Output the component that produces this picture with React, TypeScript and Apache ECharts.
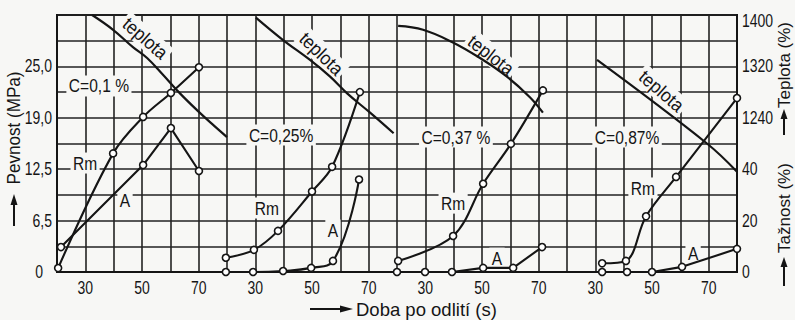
import React, { useEffect, useRef } from 'react';
import * as echarts from 'echarts';

const FONT = '"Liberation Sans", Arial, sans-serif';
const INK = '#151515';
const PAPER = '#f7f7f5';

// each panel spans 20..80 s after casting
const PANEL_START = 20;
const PANEL_SPAN = 60;
const PANEL_COUNT = 4;

// tick labels (rows 0..10 of the shared grid)
const leftTickLabels = ['0', '', '6,5', '', '12,5', '', '19,0', '', '25,0', '', ''];
const rightTickLabels = ['0', '', '20', '', '40', '', '1240', '', '1320', '', '1400'];
const timeTickLabels = ['30', '50', '70'];
const timeTickValues = [30, 50, 70];

// strength scale: MPa values printed at rows 0,2,4,6,8
const rmScaleValues = [0, 6.5, 12.5, 19.0, 25.0];
const rmScaleRows = [0, 2, 4, 6, 8];

const carbonLabels = ['C=0,1 %', 'C=0,25%', 'C=0,37 %', 'C=0,87%'];

// Panel 1, C = 0.1 %
const rmTime1 = [20.4, 39.8, 50.4, 60.2, 70.1];
const rmVal1 = [0.5, 14.5, 19.1, 21.9, 24.9];
const aTime1 = [21.4, 50.4, 60.2, 70.1];
const aVal1 = [9.7, 41.6, 56.0, 39.3];
const tTime1 = [32.4, 39.8, 46.8, 51.8, 57.4, 63.4, 69.4, 75.1, 80];
const tVal1 = [1400, 1377, 1350, 1333, 1307, 1278, 1252, 1229, 1210];

// Panel 2, C = 0.25 %
const rmTime2 = [19.6, 29.5, 38.0, 50.0, 57.1, 66.9];
const rmVal2 = [1.8, 2.8, 5.2, 9.9, 12.8, 22.0];
const aTime2 = [19.6, 29.2, 39.8, 49.7, 57.4, 66.6];
const aVal2 = [0, 0, 0.4, 1.6, 4.3, 36];
const tTime2 = [30.2, 39.8, 49.3, 56.4, 62.4, 70.5, 78.8];
const tVal2 = [1396, 1361, 1330, 1304, 1278, 1248, 1216];

// Panel 3, C = 0.37 %
const rmTime3 = [20.4, 39.8, 50.4, 60.2, 71.5];
const rmVal3 = [1.4, 4.55, 10.8, 15.7, 22.2];
const aTime3 = [20, 29.9, 39.4, 50.4, 61.0, 71.2];
const aVal3 = [0, 0, 0, 1.6, 1.6, 9.7];
const tTime3 = [20.4, 29.2, 39.4, 49.3, 58.8, 66.9, 71.5];
const tVal3 = [1383, 1377, 1358, 1333, 1304, 1272, 1248];

// Panel 4, C = 0.87 %
const rmTime4 = [32.4, 40.8, 47.9, 58.5, 80];
const rmVal4 = [1.1, 1.4, 7.0, 11.6, 21.3];
const aTime4 = [32.4, 41.2, 50.0, 60.6, 80];
const aVal4 = [0, 0, 0, 2.0, 9.0];
const tTime4 = [30.6, 69.4, 80];
const tVal4 = [1330, 1200, 1156];

const panels = [
  { rmT: rmTime1, rmV: rmVal1, aT: aTime1, aV: aVal1, tT: tTime1, tV: tVal1 },
  { rmT: rmTime2, rmV: rmVal2, aT: aTime2, aV: aVal2, tT: tTime2, tV: tVal2 },
  { rmT: rmTime3, rmV: rmVal3, aT: aTime3, aV: aVal3, tT: tTime3, tV: tVal3 },
  { rmT: rmTime4, rmV: rmVal4, aT: aTime4, aV: aVal4, tT: tTime4, tV: tVal4 },
];

const aSmooth = [false, 0.45, false, false];

// annotation anchors: panel, time (s), grid row
const annotations = [
  { p: 0, t: 34.8, row: 7.24, text: carbonLabels[0], rot: 0 },
  { p: 0, t: 29.9, row: 4.24, text: 'Rm', rot: 0 },
  { p: 0, t: 44.0, row: 2.8, text: 'A', rot: 0 },
  { p: 0, t: 51.2, row: 9.1, text: 'teplota', rot: -41 },
  { p: 1, t: 39.1, row: 5.33, text: carbonLabels[1], rot: 0 },
  { p: 1, t: 34.1, row: 2.49, text: 'Rm', rot: 0 },
  { p: 1, t: 57.4, row: 1.63, text: 'A', rot: 0 },
  { p: 1, t: 53.4, row: 8.5, text: 'teplota', rot: -44 },
  { p: 2, t: 40.8, row: 5.25, text: carbonLabels[2], rot: 0 },
  { p: 2, t: 39.8, row: 2.68, text: 'Rm', rot: 0 },
  { p: 2, t: 55.3, row: 0.54, text: 'A', rot: 0 },
  { p: 2, t: 53.2, row: 8.45, text: 'teplota', rot: -38 },
  { p: 3, t: 41.2, row: 5.25, text: carbonLabels[3], rot: 0 },
  { p: 3, t: 46.8, row: 3.27, text: 'Rm', rot: 0 },
  { p: 3, t: 64.5, row: 0.74, text: 'A', rot: 0 },
  { p: 3, t: 53.4, row: 7.05, text: 'teplota', rot: -41 },
];

function rmToRow(v: number): number {
  for (let i = 1; i < rmScaleValues.length; i++) {
    if (v <= rmScaleValues[i] || i === rmScaleValues.length - 1) {
      const v0 = rmScaleValues[i - 1];
      const v1 = rmScaleValues[i];
      const r0 = rmScaleRows[i - 1];
      const r1 = rmScaleRows[i];
      return r0 + ((v - v0) / (v1 - v0)) * (r1 - r0);
    }
  }
  return 0;
}
const tempToRow = (t: number) => 6 + (t - 1240) / 40;
const elongToRow = (a: number) => a / 10;
const toX = (p: number, t: number) => p * PANEL_SPAN + (t - PANEL_START);

type TickItem = { kind: 'left' | 'right' | 'bottom'; x: number; y: number; text: string };

function buildTickItems(): TickItem[] {
  const items: TickItem[] = [];
  leftTickLabels.forEach((s, r) => {
    if (s) items.push({ kind: 'left', x: 0, y: r, text: s });
  });
  rightTickLabels.forEach((s, r) => {
    if (s) items.push({ kind: 'right', x: PANEL_SPAN * PANEL_COUNT, y: r, text: s });
  });
  for (let p = 0; p < PANEL_COUNT; p++) {
    timeTickValues.forEach((t, i) => {
      items.push({ kind: 'bottom', x: toX(p, t), y: 0, text: timeTickLabels[i] });
    });
  }
  return items;
}

function buildOption() {
  const series: any[] = [];
  const lineStyle = { color: INK, width: 2.1 };
  const marker = {
    symbol: 'circle',
    symbolSize: 7,
    itemStyle: { color: '#ffffff', borderColor: INK, borderWidth: 1.6 },
  };
  panels.forEach((pn, p) => {
    series.push({
      type: 'line',
      name: 'Rm ' + (p + 1),
      data: pn.rmT.map((t, i) => [toX(p, t), rmToRow(pn.rmV[i])]),
      smooth: 0.35,
      lineStyle,
      ...marker,
      z: 5,
    });
    series.push({
      type: 'line',
      name: 'A ' + (p + 1),
      data: pn.aT.map((t, i) => [toX(p, t), elongToRow(pn.aV[i])]),
      smooth: aSmooth[p],
      lineStyle,
      ...marker,
      z: 5,
    });
    series.push({
      type: 'line',
      name: 'teplota ' + (p + 1),
      data: pn.tT.map((t, i) => [toX(p, t), tempToRow(pn.tV[i])]),
      smooth: 0.4,
      showSymbol: false,
      symbol: 'none',
      lineStyle: { color: INK, width: 2.2 },
      z: 4,
    });
  });

  // in-plot annotations (C=…, Rm, A, teplota)
  series.push({
    type: 'custom',
    name: 'annotations',
    coordinateSystem: 'cartesian2d',
    clip: false,
    silent: true,
    z: 3,
    data: annotations.map((a) => [toX(a.p, a.t), a.row]),
    renderItem: (params: any, api: any) => {
      const a = annotations[params.dataIndex];
      const pt = api.coord([api.value(0), api.value(1)]);
      return {
        type: 'text',
        x: pt[0],
        y: pt[1],
        rotation: (a.rot * Math.PI) / 180,
        scaleX: a.text === 'teplota' ? 0.92 : 0.82,
        style: {
          text: a.text,
          fontFamily: FONT,
          fontSize: 19,
          fill: INK,
          align: 'center',
          verticalAlign: 'middle',
          backgroundColor: PAPER,
          padding: [1, 3],
        },
      };
    },
  });

  // tick labels in a condensed look
  const tickItems = buildTickItems();
  series.push({
    type: 'custom',
    name: 'ticks',
    coordinateSystem: 'cartesian2d',
    clip: false,
    silent: true,
    z: 6,
    data: tickItems.map((it) => [it.x, it.y]),
    renderItem: (params: any, api: any) => {
      const it = tickItems[params.dataIndex];
      const pt = api.coord([api.value(0), api.value(1)]);
      let x = pt[0];
      let y = pt[1];
      let align = 'center';
      let va = 'middle';
      if (it.kind === 'left') {
        x -= it.text === '0' ? 14 : 5;
        align = 'right';
      } else if (it.kind === 'right') {
        x += 5;
        align = 'left';
        if (it.text === '1400') y += 6;
      } else {
        y += 7;
        va = 'top';
      }
      return {
        type: 'text',
        x,
        y,
        scaleX: 0.8,
        style: { text: it.text, fontFamily: FONT, fontSize: 17.5, fill: INK, align, verticalAlign: va },
      };
    },
  });

  return {
    animation: false,
    backgroundColor: PAPER,
    grid: {
      left: 57,
      right: 58,
      top: 15,
      bottom: 48,
      show: true,
      borderColor: INK,
      borderWidth: 2,
    },
    xAxis: {
      type: 'value',
      min: 0,
      max: PANEL_SPAN * PANEL_COUNT,
      interval: 10,
      axisLine: { show: true, lineStyle: { color: INK, width: 2 } },
      axisTick: { show: false },
      axisLabel: { show: false },
      splitLine: { show: true, lineStyle: { color: '#222', width: 1.6 } },
    },
    yAxis: [
      {
        type: 'value',
        min: 0,
        max: 10,
        interval: 1,
        axisLine: { show: true, lineStyle: { color: INK, width: 2 } },
        axisTick: { show: false },
        axisLabel: { show: false },
        splitLine: { show: true, lineStyle: { color: '#222', width: 1.6 } },
      },
      {
        type: 'value',
        min: 0,
        max: 10,
        interval: 1,
        position: 'right',
        axisLine: { show: true, lineStyle: { color: INK, width: 2 } },
        axisTick: { show: false },
        axisLabel: { show: false },
        splitLine: { show: false },
      },
    ],
    series,
    graphic: [
      {
        type: 'text',
        x: 14,
        y: 128,
        rotation: Math.PI / 2,
        scaleX: 0.95,
        style: { text: 'Pevnost (MPa)', fontFamily: FONT, fontSize: 18, fill: INK, align: 'center', verticalAlign: 'middle' },
      },
      { type: 'line', shape: { x1: 14, y1: 226, x2: 14, y2: 202 }, style: { stroke: INK, lineWidth: 2 } },
      { type: 'polygon', shape: { points: [[10.5, 205], [17.5, 205], [14, 194]] }, style: { fill: INK } },
      {
        type: 'text',
        x: 784,
        y: 65,
        rotation: Math.PI / 2,
        style: { text: 'Teplota (%)', fontFamily: FONT, fontSize: 17, fill: INK, align: 'center', verticalAlign: 'middle' },
      },
      { type: 'line', shape: { x1: 784, y1: 135, x2: 784, y2: 116 }, style: { stroke: INK, lineWidth: 2 } },
      { type: 'polygon', shape: { points: [[780.5, 119], [787.5, 119], [784, 109]] }, style: { fill: INK } },
      {
        type: 'text',
        x: 784,
        y: 208,
        rotation: Math.PI / 2,
        style: { text: 'Tažnost (%)', fontFamily: FONT, fontSize: 17, fill: INK, align: 'center', verticalAlign: 'middle' },
      },
      { type: 'line', shape: { x1: 784, y1: 286, x2: 784, y2: 264 }, style: { stroke: INK, lineWidth: 2 } },
      { type: 'polygon', shape: { points: [[780.5, 267], [787.5, 267], [784, 257]] }, style: { fill: INK } },
      { type: 'line', shape: { x1: 310, y1: 309, x2: 343, y2: 309 }, style: { stroke: INK, lineWidth: 2 } },
      { type: 'polygon', shape: { points: [[340, 305.5], [340, 312.5], [353, 309]] }, style: { fill: INK } },
      {
        type: 'text',
        x: 356,
        y: 309,
        style: { text: 'Doba po odlití (s)', fontFamily: FONT, fontSize: 18.5, fill: INK, align: 'left', verticalAlign: 'middle' },
      },
    ],
  };
}

export default function App() {
  const ref = useRef<HTMLDivElement>(null);
  useEffect(() => {
    document.body.style.margin = '0';
    const chart = echarts.init(ref.current as HTMLDivElement, undefined, { renderer: 'svg' });
    chart.setOption(buildOption() as any);
    return () => chart.dispose();
  }, []);
  return <div ref={ref} style={{ width: 795, height: 320, background: PAPER }} />;
}
